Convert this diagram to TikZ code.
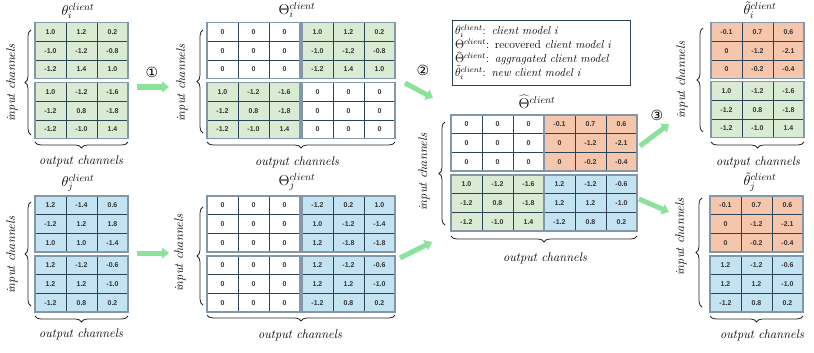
\documentclass[tikz,border=0pt]{standalone}
\usepackage{fontspec}
\usetikzlibrary{arrows.meta,decorations.pathreplacing}
\newfontfamily\numfont{Liberation Sans}
\newfontfamily\symfont{DejaVu Sans}
\definecolor{cgreen}{HTML}{DAEBD3}
\definecolor{cblue}{HTML}{C4E3F2}
\definecolor{corange}{HTML}{F6C6AC}
\definecolor{cline}{HTML}{2B4257}
\definecolor{cframe}{HTML}{8497A8}
\definecolor{carrow}{HTML}{8BE39B}
\tikzset{
  cell/.style={draw=cline, line width=0.7pt, minimum width=31pt, minimum height=18.667pt,
    inner sep=0pt, font=\numfont\bfseries\fontsize{7}{8}\selectfont, text=black!80},
  frame/.style={draw=cframe, line width=1.2pt},
  lbl/.style={font=\fontsize{12.5}{14}\selectfont\itshape, inner sep=0pt},
  ttl/.style={font=\fontsize{14.5}{16}\selectfont, inner sep=0pt},
  brc/.style={decorate, decoration={brace, amplitude=6pt}, line width=0.8pt, draw=black!85},
  garrow/.style={draw=carrow, line width=5pt, -{Triangle[length=7pt,width=11pt]}},
  circ/.style={font=\symfont\fontsize{14}{16}\selectfont, inner sep=0pt},
}
\newcommand\mblock[5]{%
  \foreach \v [count=\k from 0] in {#5}{%
    \pgfmathtruncatemacro\mrow{\k/3}%
    \pgfmathtruncatemacro\mcol{\k-3*\mrow}%
    \node[cell,fill=#4] (#1-\mrow\mcol) at ({#2+15.5+31*\mcol},{#3+9.333+18.667*\mrow}) {\v};
  }%
  \draw[frame] (#2,#3) rectangle ++(93,56);
}
\begin{document}
\begin{tikzpicture}[x=1pt,y=-1pt]
\useasboundingbox (0,0) rectangle (814,353);

% ---- matrix 1: theta_i
\node[ttl] (t1) at (78,11) {$\theta_i^{client}$};
\mblock{a}{35}{22.7}{cgreen}{1.0,1.2,0.2,-1.0,-1.2,-0.8,-1.2,1.4,1.0}
\mblock{b}{35}{82.7}{cgreen}{1.0,-1.2,-1.6,-1.2,0.8,-1.8,-1.2,-1.0,1.4}
\draw[brc] (31,135) -- (31,30);
\node[lbl,rotate=90] (i1) at (12,83) {input channels};
\draw[brc] (128,142) -- (35,142);
\node[lbl] (o1) at (81,161) {output channels};

% ---- matrix 2: theta_j
\node[ttl] (t2) at (78,183) {$\theta_j^{client}$};
\mblock{c}{35}{196}{cblue}{1.2,-1.4,0.6,-1.2,1.2,1.8,1.0,1.0,-1.4}
\mblock{d}{35}{256}{cblue}{1.2,-1.2,-0.6,1.2,1.2,-1.0,-1.2,0.8,0.2}
\draw[brc] (31,306) -- (31,202);
\node[lbl,rotate=90] (i2) at (12,255) {input channels};
\draw[brc] (128,316) -- (35,316);
\node[lbl] (o2) at (81,334) {output channels};

% ---- matrix 3: Theta_i
\node[ttl] (t3) at (297,10) {$\Theta_i^{client}$};
\mblock{e}{207}{22.7}{white}{0,0,0,0,0,0,0,0,0}
\mblock{f}{302}{22.7}{cgreen}{1.0,1.2,0.2,-1.0,-1.2,-0.8,-1.2,1.4,1.0}
\mblock{g}{207}{82.7}{cgreen}{1.0,-1.2,-1.6,-1.2,0.8,-1.8,-1.2,-1.0,1.4}
\mblock{h}{302}{82.7}{white}{0,0,0,0,0,0,0,0,0}
\draw[brc] (203,133) -- (203,30);
\node[lbl,rotate=90] (i3) at (182,83) {input channels};
\draw[brc] (395,142) -- (207,142);
\node[lbl] (o3) at (297,162) {output channels};

% ---- matrix 4: Theta_j
\node[ttl] (t4) at (297,182) {$\Theta_j^{client}$};
\mblock{k}{207}{196}{white}{0,0,0,0,0,0,0,0,0}
\mblock{l}{302}{196}{cblue}{-1.2,0.2,1.0,1.0,-1.2,-1.4,1.2,-1.8,-1.8}
\mblock{m}{207}{256}{white}{0,0,0,0,0,0,0,0,0}
\mblock{n}{302}{256}{cblue}{1.2,-1.2,-0.6,1.2,1.2,-1.0,-1.2,0.8,0.2}
\draw[brc] (203,305) -- (203,207);
\node[lbl,rotate=90] (i4) at (180,253) {input channels};
\draw[brc] (395,315) -- (207,315);
\node[lbl] (o4) at (300,335) {output channels};

% ---- legend
\node[draw=cline, line width=0.8pt, minimum width=178pt, minimum height=65pt,
      text width=172pt, align=left, inner sep=3pt, font=\fontsize{11.5}{14}\selectfont]
  (leg) at (541,52.5) {%
  $\theta_i^{client}$: \textit{client model i}\\
  $\Theta^{client}$: recovered \textit{client model i}\\
  $\widehat{\Theta}^{client}$: \textit{aggragated client model}\\
  $\tilde{\theta}_i^{client}$: \textit{new client model i}};

% ---- matrix 5: aggregated
\node[ttl] (t5) at (537,102) {$\widehat{\Theta}^{client}$};
\mblock{p}{451}{115}{white}{0,0,0,0,0,0,0,0,0}
\mblock{q}{544}{115}{corange}{-0.1,0.7,0.6,0,-1.2,-2.1,0,-0.2,-0.4}
\mblock{r}{451}{175}{cgreen}{1.0,-1.2,-1.6,-1.2,0.8,-1.8,-1.2,-1.0,1.4}
\mblock{s}{544}{175}{cblue}{1.2,-1.2,-0.6,1.2,1.2,-1.0,-1.2,0.8,0.2}
\draw[brc] (445,225) -- (445,122);
\node[lbl,rotate=90] (i5) at (424,172) {input channels};
\draw[brc] (637,236) -- (451,236);
\node[lbl] (o5) at (545,258) {output channels};

% ---- matrix 6: new theta_i
\node[ttl] (t6) at (760,10) {$\tilde{\theta}_i^{client}$};
\mblock{u}{711}{22.7}{corange}{-0.1,0.7,0.6,0,-1.2,-2.1,0,-0.2,-0.4}
\mblock{v}{711}{81.7}{cgreen}{1.0,-1.2,-1.6,-1.2,0.8,-1.8,-1.2,-1.0,1.4}
\draw[brc] (703,132) -- (703,28);
\node[lbl,rotate=90] (i6) at (682,80) {input channels};
\draw[brc] (804,142) -- (711,142);
\node[lbl] (o6) at (758,162) {output channels};

% ---- matrix 7: new theta_j
\node[ttl] (t7) at (760,182) {$\tilde{\theta}_j^{client}$};
\mblock{w}{710}{196}{corange}{-0.1,0.7,0.6,0,-1.2,-2.1,0,-0.2,-0.4}
\mblock{z}{710}{256}{cblue}{1.2,-1.2,-0.6,1.2,1.2,-1.0,-1.2,0.8,0.2}
\draw[brc] (702,307) -- (702,198);
\node[lbl,rotate=90] (i7) at (681,237) {input channels};
\draw[brc] (803,316) -- (710,316);
\node[lbl] (o7) at (762,335) {output channels};

% ---- arrows
\coordinate (a1s) at (137,87);  \coordinate (a1e) at (169,87);
\coordinate (a2s) at (137,253); \coordinate (a2e) at (169,253);
\coordinate (a3s) at (405,83);  \coordinate (a3e) at (433,98);
\coordinate (a4s) at (400,258); \coordinate (a4e) at (432,242);
\coordinate (a5s) at (640,146); \coordinate (a5e) at (669,124);
\coordinate (a6s) at (639,199); \coordinate (a6e) at (669,212);
\draw[garrow] (a1s) -- (a1e);
\draw[garrow] (a2s) -- (a2e);
\draw[garrow] (a3s) -- (a3e);
\draw[garrow] (a4s) -- (a4e);
\draw[garrow] (a5s) -- (a5e);
\draw[garrow] (a6s) -- (a6e);
\node[circ] (n1) at (152,72) {①};
\node[circ] (n2) at (423,70) {②};
\node[circ] (n3) at (657,115) {③};
\end{tikzpicture}
\end{document}
